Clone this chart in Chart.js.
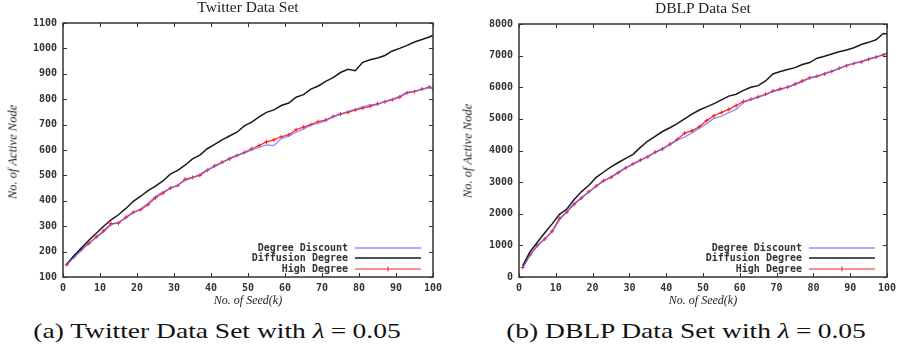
<!DOCTYPE html>
<html><head><meta charset="utf-8">
<script src="https://cdn.jsdelivr.net/npm/chart.js@4/dist/chart.umd.min.js"></script>
<style>
html,body{margin:0;padding:0;background:#fff;}
#wrap{position:relative;width:906px;height:351px;background:#fff;overflow:hidden;}
canvas{position:absolute;top:0;}
.t{position:absolute;font-family:"Liberation Serif",serif;color:#222;white-space:nowrap;transform:translate(-50%,-50%);}
.ttl{font-size:15.5px;}
.ax{font-size:12.5px;font-style:italic;}
.xt{font-size:12px;}
.yt{transform:translate(-50%,-50%) rotate(-90deg);}
.cap{font-size:22px;color:#111;transform:translate(-50%,-50%) scaleX(1.25);}
.cap .eq{margin:0 5px;}
</style></head>
<body><div id="wrap">
<canvas id="c1" width="450" height="300" style="left:0;width:450px;height:300px"></canvas>
<canvas id="c2" width="456" height="300" style="left:450px;width:456px;height:300px"></canvas>
<div class="t ttl" style="left:248px;top:7px">Twitter Data Set</div>
<div class="t ttl" style="left:703px;top:8px">DBLP Data Set</div>
<div class="t ax yt" style="left:13px;top:152px">No. of Active Node</div>
<div class="t ax yt" style="left:468px;top:151px">No. of Active Node</div>
<div class="t ax xt" style="left:248px;top:300px">No. of Seed(k)</div>
<div class="t ax xt" style="left:703px;top:300px">No. of Seed(k)</div>
<div class="t cap" style="left:217px;top:331px">(a) Twitter Data Set with <i>λ</i><span class="eq">=</span>0.05</div>
<div class="t cap" style="left:686px;top:331px">(b) DBLP Data Set with <i>λ</i><span class="eq">=</span>0.05</div>
</div>
<script>
const seeds = [1,3,5,7,9,11,13,15,17,19,21,23,25,27,29,31,33,35,37,39,41,43,45,47,49,51,53,55,57,59,61,63,65,67,69,71,73,75,77,79,81,83,85,87,89,91,93,95,97,99,100];
const xTicks = [0,10,20,30,40,50,60,70,80,90,100];
const seriesNames = ["Degree Discount","Diffusion Degree","High Degree"];

const twitterDiscount = [150,178,205,235,255,278,305,315,333,352,368,390,418,435,448,462,480,490,505,522,535,550,568,580,588,600,610,620,618,645,655,670,682,698,705,715,730,740,752,760,770,778,778,792,800,812,828,832,838,845,845];
const twitterDiffusion = [150,185,215,245,272,300,325,345,370,398,418,440,458,478,505,520,540,565,580,605,622,640,655,670,695,710,730,748,758,775,785,808,818,840,852,870,885,905,918,912,945,955,962,972,990,1000,1012,1025,1035,1045,1052];
const twitterHigh = [148,180,208,232,258,282,310,312,335,355,365,385,412,430,450,460,485,492,500,520,538,552,565,578,590,605,618,632,640,652,660,680,690,700,712,718,732,742,748,758,765,772,782,790,798,808,825,830,840,848,842];

const dblpDiscount = [300,680,980,1220,1430,1800,2080,2320,2520,2680,2870,3020,3170,3320,3460,3560,3680,3820,3930,4060,4180,4330,4420,4560,4700,4850,5020,5080,5200,5300,5520,5600,5680,5760,5860,5920,6020,6080,6180,6280,6340,6440,6520,6580,6700,6760,6820,6900,6960,7040,7080];
const dblpDiffusion = [350,800,1100,1400,1680,1980,2150,2450,2700,2900,3150,3320,3480,3620,3750,3880,4100,4300,4450,4600,4720,4850,5000,5150,5280,5380,5480,5600,5720,5780,5900,6000,6050,6200,6420,6500,6560,6620,6720,6780,6920,6980,7050,7120,7180,7250,7350,7420,7500,7700,7680];
const dblpHigh = [300,700,1000,1200,1450,1850,2050,2300,2500,2700,2880,3050,3150,3300,3450,3580,3700,3800,3950,4050,4200,4350,4550,4620,4750,4950,5100,5200,5300,5420,5550,5620,5700,5780,5880,5950,6000,6100,6200,6300,6350,6420,6500,6600,6680,6750,6800,6880,6950,7020,7060];

const twitterY = {min:100,max:1100,step:100};
const dblpY = {min:0,max:8000,step:1000};

const COLORS = ["rgba(100,100,255,0.7)","#1a1a1a","#ff2020"];
const tickFont = {family:"'DejaVu Sans Mono', monospace", size:10, weight:'bold'};

function pts(v){ return seeds.map((s,i)=>({x:s,y:v[i]})); }

const frame = {
  id:'frame',
  afterDraw(chart){
    const {ctx, chartArea:a, scales:{x,y}} = chart;
    ctx.save();
    ctx.strokeStyle='#333'; ctx.lineWidth=1;
    ctx.beginPath();
    x.ticks.forEach(t=>{const p=Math.round(x.getPixelForValue(t.value))+0.5;
      ctx.moveTo(p,a.bottom); ctx.lineTo(p,a.bottom-4);
      ctx.moveTo(p,a.top); ctx.lineTo(p,a.top+4);});
    y.ticks.forEach(t=>{const p=Math.round(y.getPixelForValue(t.value))+0.5;
      ctx.moveTo(a.left,p); ctx.lineTo(a.left+4,p);
      ctx.moveTo(a.right,p); ctx.lineTo(a.right-4,p);});
    ctx.stroke();
    ctx.lineWidth=1.5; ctx.strokeStyle='#333';
    ctx.strokeRect(a.left,a.top,a.right-a.left,a.bottom-a.top);
    const rows=[29,19,8];
    ctx.font="bold 10px 'DejaVu Sans Mono', monospace";
    ctx.textAlign='right'; ctx.textBaseline='middle';
    chart.data.datasets.forEach((ds,i)=>{
      const yy=a.bottom-rows[i];
      ctx.fillStyle='#333';
      ctx.fillText(ds.label,a.right-85,yy);
      ctx.strokeStyle=ds.borderColor; ctx.lineWidth=ds.borderWidth;
      ctx.beginPath(); ctx.moveTo(a.right-78,yy); ctx.lineTo(a.right-12,yy); ctx.stroke();
      if(ds.pointStyle==='cross'){
        ctx.lineWidth=1; ctx.beginPath();
        ctx.moveTo(a.right-45,yy-2.5); ctx.lineTo(a.right-45,yy+2.5); ctx.stroke();
      }
    });
    ctx.restore();
  }
};

function make(id, d1,d2,d3, yr, yWidth, padRight, padTop){
  new Chart(document.getElementById(id),{
    type:'line',
    data:{datasets:[
      {label:seriesNames[0],data:pts(d1),borderColor:COLORS[0],borderWidth:1.4,pointRadius:0,tension:0},
      {label:seriesNames[1],data:pts(d2),borderColor:COLORS[1],borderWidth:1.5,pointRadius:0,tension:0},
      {label:seriesNames[2],data:pts(d3),borderColor:COLORS[2],borderWidth:1.2,pointStyle:'cross',pointRadius:2,pointBorderWidth:1,pointBorderColor:COLORS[2],tension:0}
    ]},
    options:{
      responsive:false,animation:false,
      layout:{padding:{left:0,right:padRight,top:padTop,bottom:0}},
      plugins:{legend:{display:false},tooltip:{enabled:false},title:{display:false}},
      scales:{
        x:{type:'linear',min:0,max:100,
          afterBuildTicks:s=>{s.ticks=xTicks.map(v=>({value:v}));},
          afterFit:s=>{s.height=23;},
          grid:{display:false,drawTicks:false},border:{display:false},
          ticks:{font:tickFont,color:'#333',padding:5,maxRotation:0,autoSkip:false,callback:v=>String(v)}},
        y:{type:'linear',min:yr.min,max:yr.max,
          ticks:{stepSize:yr.step,font:tickFont,color:'#333',padding:6,autoSkip:false,callback:v=>String(v)},
          afterFit:s=>{s.width=yWidth;},
          grid:{display:false,drawTicks:false},border:{display:false}}
      }
    },
    plugins:[frame]
  });
}
make('c1',twitterDiscount,twitterDiffusion,twitterHigh,twitterY,63,17,23);
make('c2',dblpDiscount,dblpDiffusion,dblpHigh,dblpY,69,19,24);
</script>
</body></html>
